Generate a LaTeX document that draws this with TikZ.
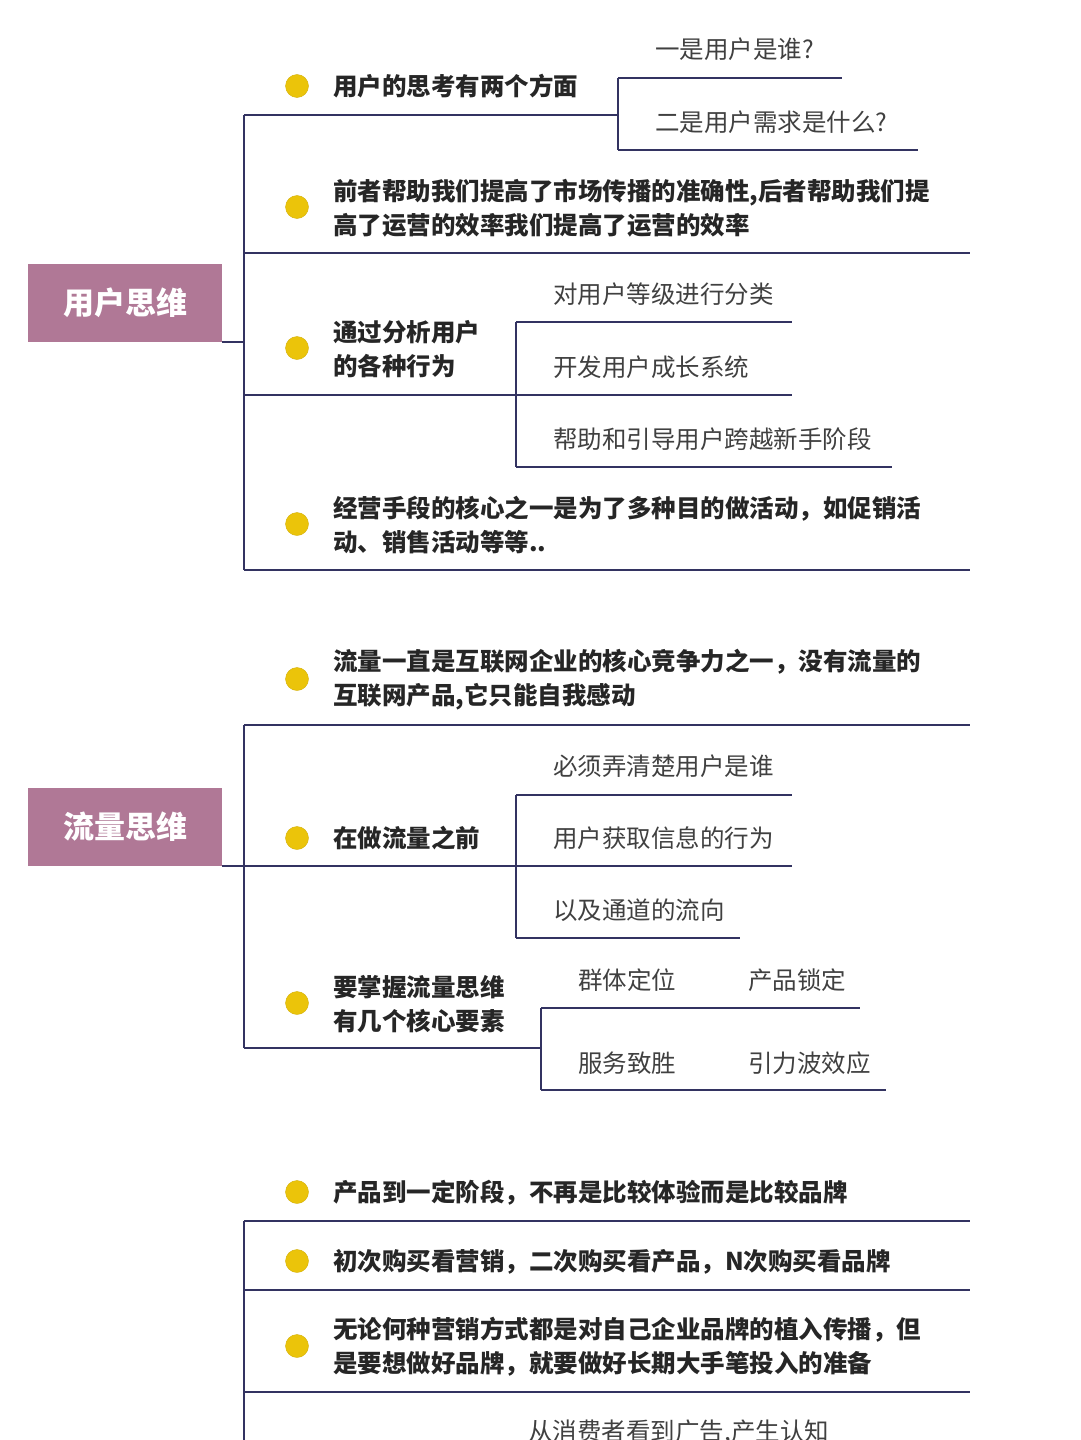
\documentclass[tikz,border=0pt]{standalone}
\usepackage{fontspec}
\setmainfont{Noto Sans CJK SC}
\begin{document}
\begin{tikzpicture}[x=1pt,y=-1pt,
 ln/.style={draw=black!70!blue!60!gray, line width=1.6pt},
 dot/.style={circle,fill=dotc,draw=dotc!90!black,minimum size=23pt,inner sep=0pt},
 itm/.style={anchor=west,font=\bfseries\fontsize{24.5}{34}\selectfont,text=black!85,align=left,inner sep=0pt},
 sub/.style={anchor=west,font=\fontsize{24.5}{26}\selectfont,text=black!75,inner sep=0pt},
 sec/.style={fill=secc,text=white,font=\bfseries\fontsize{31}{34}\selectfont,minimum width=194pt,minimum height=78pt,inner sep=0pt}]
\definecolor{secc}{HTML}{B07896}
\definecolor{dotc}{HTML}{EBC40A}
\useasboundingbox (0,0) rectangle (1080,1440);
% ---------- section 1
\node[sec] (s1) at (125,303) {用户思维};
\draw[ln] (222,342) -- (244,342);
\draw[ln] (244,115) -- (244,570);
\node[dot] (d11) at (297,86) {};
\node[itm] (t11) at (333,86) {用户的思考有两个方面};
\draw[ln] (244,115) -- (618,115);
\draw[ln] (618,78) -- (618,150);
\draw[ln] (618,78) -- (842,78);
\draw[ln] (618,150) -- (918,150);
\node[sub] (t111) at (655,49) {一是用户是谁?};
\node[sub] (t112) at (655,122) {二是用户需求是什么?};
\node[dot] (d12) at (297,207) {};
\node[itm] (t12) at (333,208) {前者帮助我们提高了市场传播的准确性,后者帮助我们提\\高了运营的效率我们提高了运营的效率};
\draw[ln] (244,253) -- (970,253);
\node[dot] (d13) at (297,348) {};
\node[itm] (t13) at (333,349) {通过分析用户\\的各种行为};
\draw[ln] (244,395) -- (516,395);
\draw[ln] (516,322) -- (516,467);
\draw[ln] (516,322) -- (792,322);
\draw[ln] (516,395) -- (792,395);
\draw[ln] (516,467) -- (892,467);
\node[sub] (t131) at (553,294) {对用户等级进行分类};
\node[sub] (t132) at (553,367) {开发用户成长系统};
\node[sub] (t133) at (553,439) {帮助和引导用户跨越新手阶段};
\node[dot] (d14) at (297,524) {};
\node[itm] (t14) at (333,525) {经营手段的核心之一是为了多种目的做活动，如促销活\\动、销售活动等等..};
\draw[ln] (244,570) -- (970,570);
% ---------- section 2
\node[sec] (s2) at (125,827) {流量思维};
\draw[ln] (222,866) -- (244,866);
\draw[ln] (244,725) -- (244,1048);
\node[dot] (d21) at (297,679) {};
\node[itm] (t21) at (333,680) {流量一直是互联网企业的核心竞争力之一，没有流量的\\互联网产品,它只能自我感动};
\draw[ln] (244,725) -- (970,725);
\node[dot] (d22) at (297,838) {};
\node[itm] (t22) at (333,838) {在做流量之前};
\draw[ln] (244,866) -- (516,866);
\draw[ln] (516,795) -- (516,938);
\draw[ln] (516,795) -- (792,795);
\draw[ln] (516,866) -- (792,866);
\draw[ln] (516,938) -- (740,938);
\node[sub] (t221) at (553,766) {必须弄清楚用户是谁};
\node[sub] (t222) at (553,838) {用户获取信息的行为};
\node[sub] (t223) at (553,910) {以及通道的流向};
\node[dot] (d23) at (297,1003) {};
\node[itm] (t23) at (333,1004) {要掌握流量思维\\有几个核心要素};
\draw[ln] (244,1048) -- (541,1048);
\draw[ln] (541,1008) -- (541,1090);
\draw[ln] (541,1008) -- (860,1008);
\draw[ln] (541,1090) -- (886,1090);
\node[sub] (t231) at (578,980) {群体定位};
\node[sub] (t232) at (748,980) {产品锁定};
\node[sub] (t233) at (578,1063) {服务致胜};
\node[sub] (t234) at (748,1063) {引力波效应};
% ---------- section 3
\draw[ln] (244,1221) -- (244,1440);
\node[dot] (d31) at (297,1192) {};
\node[itm] (t31) at (333,1193) {产品到一定阶段，不再是比较体验而是比较品牌};
\draw[ln] (244,1221) -- (970,1221);
\node[dot] (d32) at (297,1261) {};
\node[itm] (t32) at (333,1262) {初次购买看营销，二次购买看产品，N次购买看品牌};
\draw[ln] (244,1290) -- (970,1290);
\node[dot] (d33) at (297,1346) {};
\node[itm] (t33) at (333,1347) {无论何种营销方式都是对自己企业品牌的植入传播，但\\是要想做好品牌，就要做好长期大手笔投入的准备};
\draw[ln] (244,1392) -- (970,1392);
\node[sub] (t341) at (528,1433) {从消费者看到广告,产生认知};
\end{tikzpicture}
\end{document}
